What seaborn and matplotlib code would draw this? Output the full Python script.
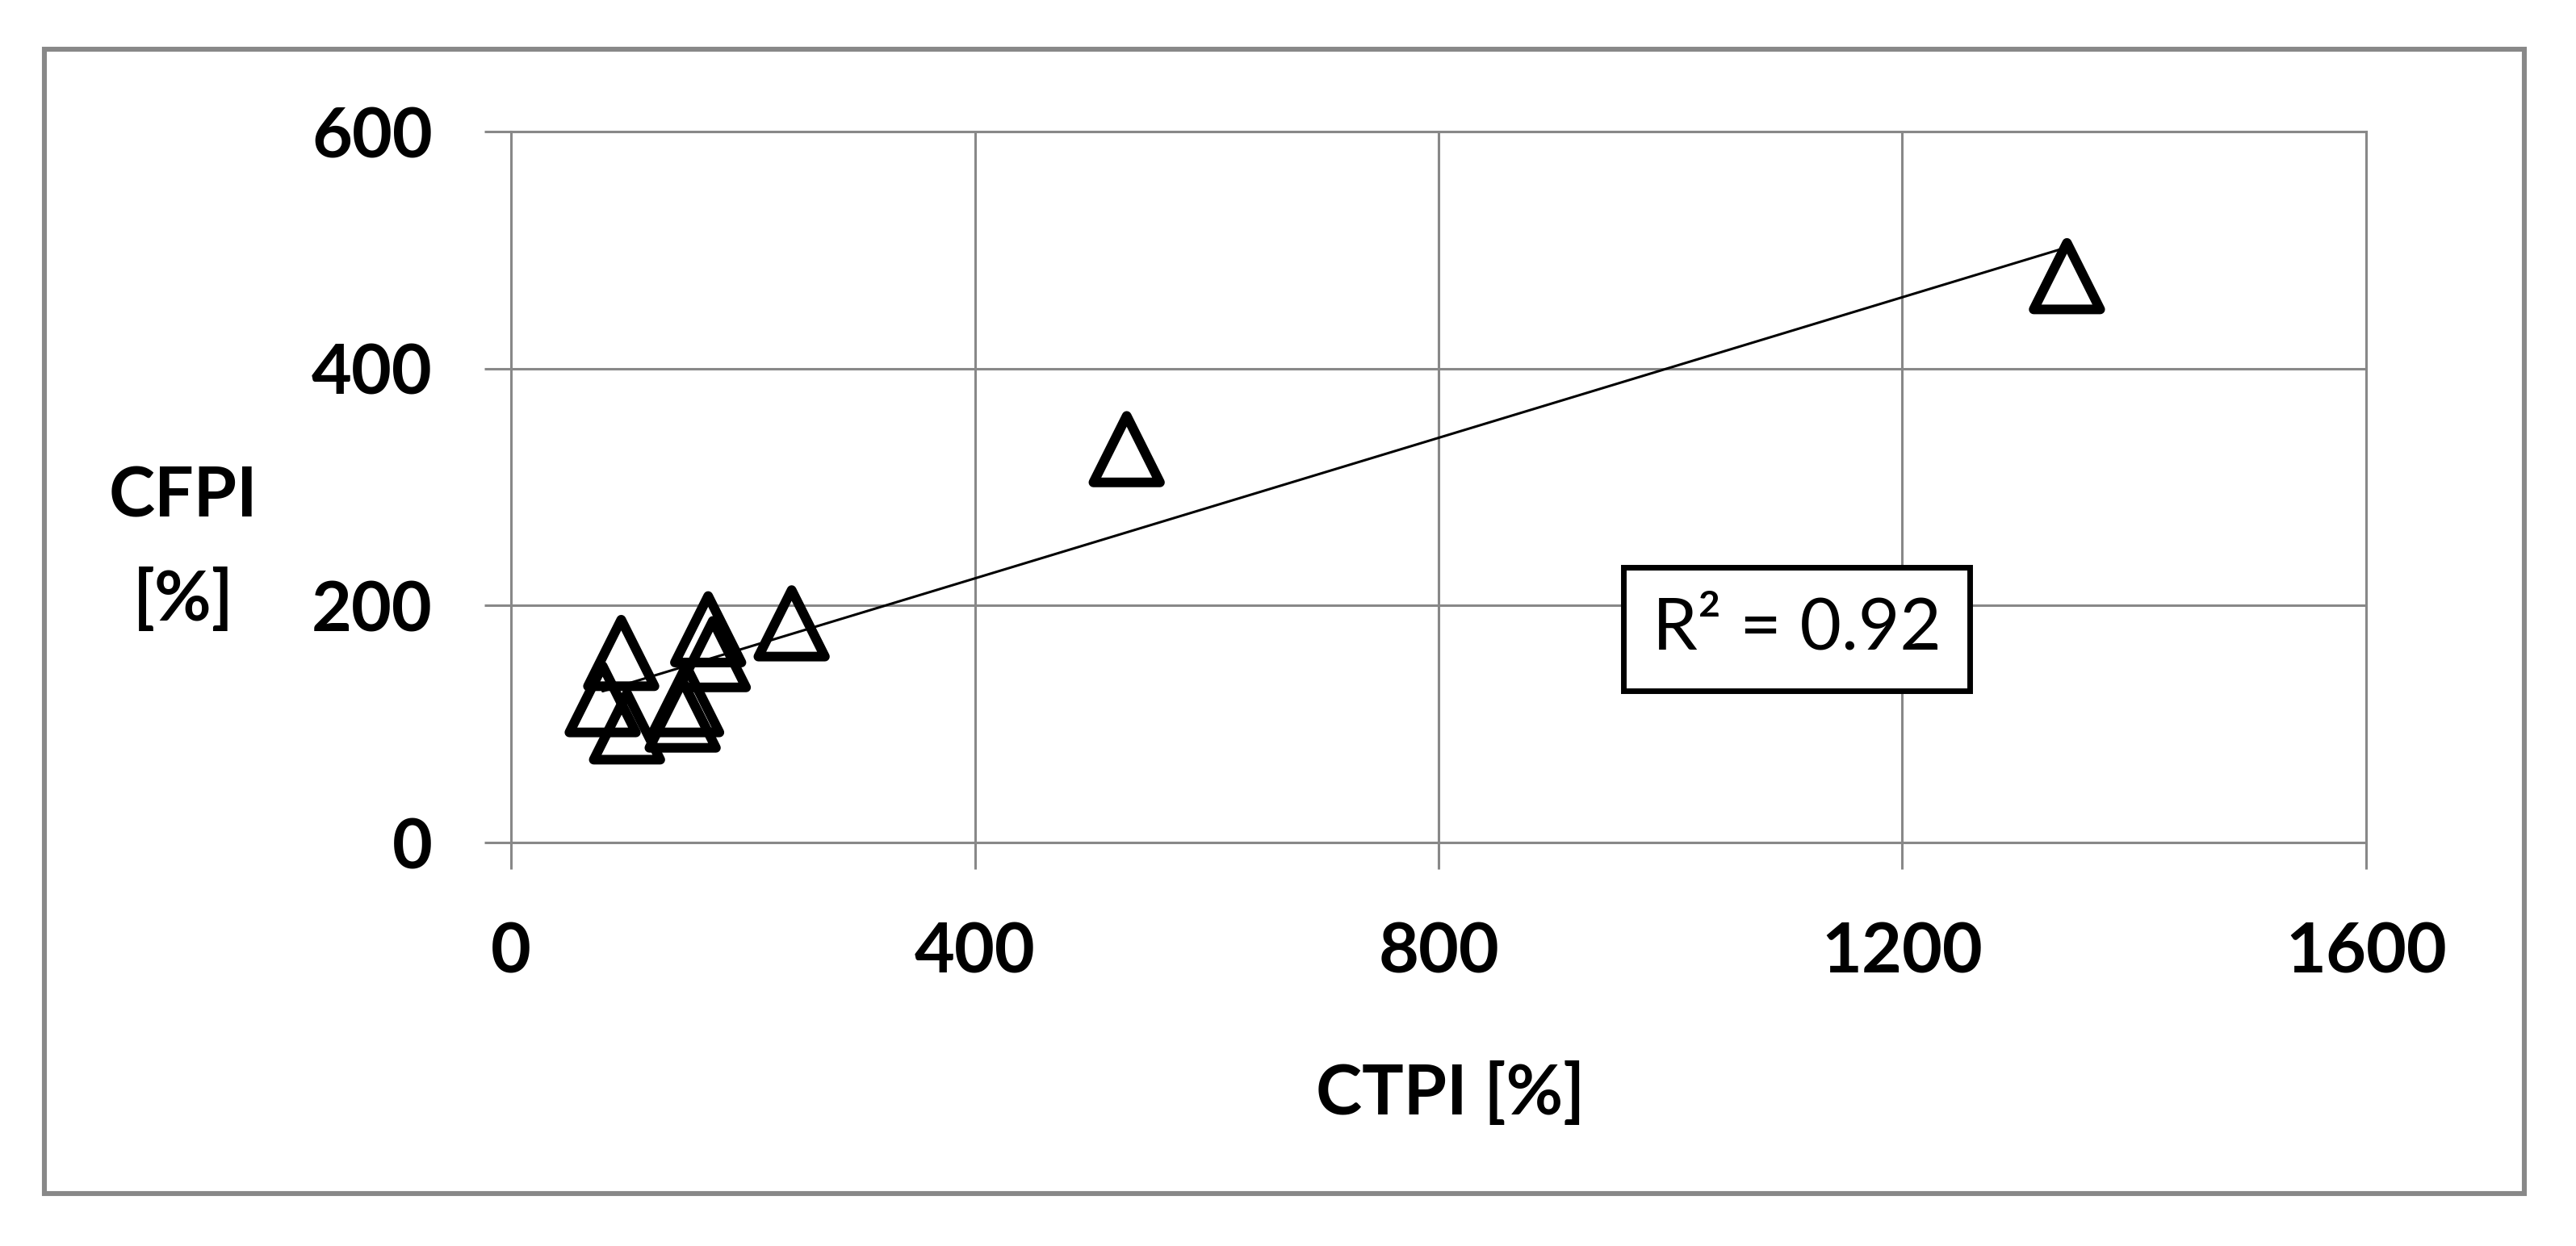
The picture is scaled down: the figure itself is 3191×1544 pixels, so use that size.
import numpy as np
import pandas as pd
import matplotlib
matplotlib.use("Agg")
import matplotlib.pyplot as plt
import seaborn as sns
from matplotlib.patches import Rectangle

# Data
ctpi = [95, 170, 242, 174, 79, 100, 148, 151, 531, 1342]
cfpi = [160, 180, 185, 159, 121, 98, 108, 121, 332, 478]
x_ticks = [0, 400, 800, 1200, 1600]
y_ticks = [0, 200, 400, 600]
x_label = "CTPI [%]"
y_label = "CFPI\n[%]"
r2_text = "R² = 0.92"

df = pd.DataFrame({"CTPI": ctpi, "CFPI": cfpi})

sns.set_theme(style="white")
plt.rcParams["font.family"] = ["Lato", "DejaVu Sans"]
plt.rcParams["text.color"] = "black"

DPI = 200
fig = plt.figure(figsize=(3191 / DPI, 1544 / DPI), dpi=DPI)
fig.patch.set_facecolor("white")
ax = fig.add_axes([0.1984, 0.3238, 0.9185 - 0.1984, 0.8944 - 0.3238])

grey = "#888888"
FS = 31

sns.regplot(data=df, x="CTPI", y="CFPI", ax=ax, scatter=False, ci=None,
            truncate=True, color="black", line_kws={"lw": 1.1, "zorder": 3})
sns.scatterplot(data=df, x="CTPI", y="CFPI", ax=ax, marker="^", s=880,
                facecolors="none", edgecolor="black", linewidth=4.3,
                zorder=4, legend=False)
for coll in ax.collections:
    coll.set_facecolor("none")
    coll.set_clip_on(False)

ax.set_xlim(0, 1600)
ax.set_ylim(0, 600)
ax.set_xticks(x_ticks)
ax.set_yticks(y_ticks)
ax.set_xticklabels([str(t) for t in x_ticks], fontsize=FS, fontweight="bold")
ax.set_yticklabels([str(t) for t in y_ticks], fontsize=FS, fontweight="bold")
ax.tick_params(axis="both", which="major", direction="out", length=12,
               width=1.1, color=grey, labelcolor="black",
               bottom=True, left=True)
ax.tick_params(axis="x", pad=23)
ax.tick_params(axis="y", pad=23)
ax.grid(True, color=grey, lw=1.1)
for s in ax.spines.values():
    s.set_color(grey)
    s.set_linewidth(1.1)
ax.set_xlabel("")
ax.set_ylabel("")

fig.text(0.563, 0.1215, x_label, ha="center", va="center", fontsize=FS,
         fontweight="bold", color="black")
fig.text(0.0711, 0.5596, y_label, ha="center", va="center", fontsize=FS,
         fontweight="bold", linespacing=1.75, color="black")

ax.text(1109, 180, r2_text, ha="center", va="center", fontsize=32,
        zorder=5, color="black",
        bbox=dict(boxstyle="square,pad=0.4", fc="white", ec="black", lw=2.5))

fig.patches.append(Rectangle((0.0172, 0.042), 0.980 - 0.0172, 0.9605 - 0.042,
                             transform=fig.transFigure, fill=False,
                             ec=grey, lw=2.2))

fig.savefig("out.png", dpi=DPI)
